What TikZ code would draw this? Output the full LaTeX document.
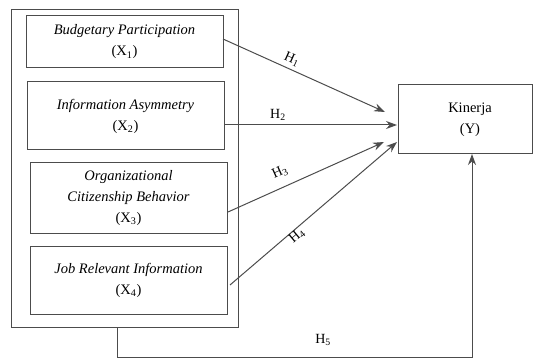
\documentclass[tikz,border=0pt]{standalone}
\usepackage{fontspec}
\setmainfont{Liberation Serif}
\usetikzlibrary{arrows.meta}
\begin{document}
\begin{tikzpicture}[x=1pt,y=-1pt,
  ln/.style={draw=black!70,line width=1pt},
  box/.style={ln,fill=white},
  arr/.style={ln,-{Stealth[length=11pt,width=8pt]}},
  lbl/.style={font=\fontsize{14}{16}\selectfont,inner sep=0pt},
  txt/.style={font=\fontsize{14.5}{21}\selectfont,align=center,inner sep=0pt}]
\useasboundingbox (0,0) rectangle (540,358);
\draw[box] (11,10) rectangle (238,327);
\draw[box] (26,16) rectangle (223,68);
\draw[box] (27,82) rectangle (224,150);
\draw[box] (30,163) rectangle (227,233);
\draw[box] (30,246) rectangle (227,314);
\draw[box] (398,85) rectangle (532,154);
\node[txt] (b1) at (124.5,42) {\textit{Budgetary Participation}\\(X\textsubscript{1})};
\node[txt] (b2) at (125.5,116) {\textit{Information Asymmetry}\\(X\textsubscript{2})};
\node[txt] (b3) at (128.5,198) {\textit{Organizational}\\\textit{Citizenship Behavior}\\(X\textsubscript{3})};
\node[txt] (b4) at (128.5,280) {\textit{Job Relevant Information}\\(X\textsubscript{4})};
\node[txt] (y) at (470,120) {Kinerja\\(Y)};
\coordinate (s1) at (223,39);
\coordinate (s2) at (224,125);
\coordinate (s3) at (228,212);
\coordinate (s4) at (230,285);
\coordinate (t1) at (385,112);
\coordinate (t2) at (397,125);
\coordinate (t3) at (384,142);
\coordinate (t4) at (397,142);
\coordinate (s5) at (117,327);
\coordinate (c5a) at (117,357);
\coordinate (c5b) at (472,357);
\coordinate (t5) at (472,154);
\draw[arr] (s1) -- (t1);
\draw[arr] (s2) -- (t2);
\draw[arr] (s3) -- (t3);
\draw[arr] (s4) -- (t4);
\draw[arr] (s5) -- (c5a) -- (c5b) -- (t5);
\node[lbl,rotate=-24] (h1) at (292,59) {H\textsubscript{1}};
\node[lbl] (h2) at (278,115) {H\textsubscript{2}};
\node[lbl,rotate=24] (h3) at (280,172) {H\textsubscript{3}};
\node[lbl,rotate=40] (h4) at (297,236) {H\textsubscript{4}};
\node[lbl] (h5) at (323,340) {H\textsubscript{5}};
\end{tikzpicture}
\end{document}
